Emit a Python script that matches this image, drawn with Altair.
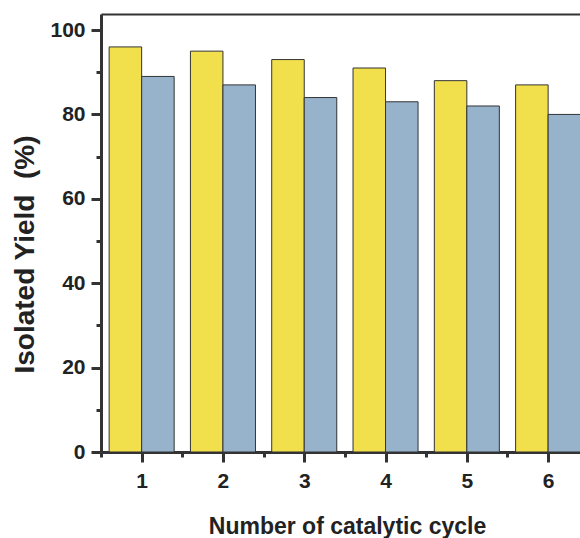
import altair as alt
import pandas as pd

cycles = [1, 2, 3, 4, 5, 6]
yellow_vals = [96, 95, 93, 91, 88, 87]
blue_vals = [89, 87, 84, 83, 82, 80]
series_names = ["A", "B"]
series_colors = ["#F1E04B", "#97B3CB"]
x_ticks = [0.5, 1, 1.5, 2, 2.5, 3, 3.5, 4, 4.5, 5, 5.5, 6]
y_ticks = [0, 10, 20, 30, 40, 50, 60, 70, 80, 90, 100]

rows = []
for c, a, b in zip(cycles, yellow_vals, blue_vals):
    rows.append({"cycle": c, "series": "A", "order": 0, "yield": a})
    rows.append({"cycle": c, "series": "B", "order": 1, "yield": b})
df = pd.DataFrame(rows)

FONT = "Liberation Sans"
TXT = "#222222"
LINE = "#333333"
XDOM = [0.5, 6.392]
YDOM = [0, 103.8]

base = alt.Chart(df).transform_calculate(
    x0="datum.cycle - 0.4 + datum.order * 0.4",
    x1="datum.cycle + datum.order * 0.4",
)

bars = base.mark_bar(stroke=LINE, strokeWidth=1, clip=True).encode(
    x=alt.X(
        "x0:Q",
        scale=alt.Scale(domain=XDOM, nice=False, zero=False),
        axis=alt.Axis(
            title="Number of catalytic cycle",
            values=x_ticks,
            labelExpr="(datum.value % 1 === 0) ? format(datum.value, 'd') : ''",
            labelOverlap=False,
            tickSize={"condition": {"test": "datum.value % 1 === 0", "value": 10}, "value": 5},
            tickWidth=3,
            tickColor=LINE,
            domainWidth=3,
            domainColor=LINE,
            grid=False,
            labelFont=FONT,
            labelFontWeight="bold",
            labelFontSize=21,
            labelColor=TXT,
            labelPadding=8,
            titleFont=FONT,
            titleFontWeight="bold",
            titleFontSize=23,
            titleColor=TXT,
            titleBaseline="alphabetic",
            titleY=81,
            titleX=246,
        ),
    ),
    x2="x1:Q",
    y=alt.Y(
        "yield:Q",
        scale=alt.Scale(domain=YDOM, nice=False),
        axis=alt.Axis(
            title="Isolated Yield\u00a0\u00a0(%)",
            values=y_ticks,
            labelExpr="datum.value % 20 === 0 ? datum.label : ''",
            labelOverlap=False,
            tickSize={"condition": {"test": "datum.value % 20 === 0", "value": 10}, "value": 5},
            tickWidth=3,
            tickColor=LINE,
            domainWidth=3,
            domainColor=LINE,
            grid=False,
            labelFont=FONT,
            labelFontWeight="bold",
            labelFontSize=21,
            labelColor=TXT,
            labelPadding=6,
            titleFont=FONT,
            titleFontWeight="bold",
            titleFontSize=28,
            titleColor=TXT,
            titleBaseline="alphabetic",
            titleAngle=-90,
            titleX=-68,
            titleY=240,
        ),
    ),
    y2=alt.datum(0),
    color=alt.Color(
        "series:N",
        scale=alt.Scale(domain=series_names, range=series_colors),
        legend=None,
    ),
)

top_frame = base.mark_bar(opacity=0, clip=True).encode(
    x=alt.X(
        "x0:Q",
        scale=alt.Scale(domain=XDOM, nice=False, zero=False),
        axis=alt.Axis(
            orient="top",
            title=None,
            labels=False,
            ticks=False,
            grid=False,
            domain=True,
            domainWidth=2,
            domainColor=LINE,
        ),
    ),
    x2="x1:Q",
    y=alt.Y("yield:Q", scale=alt.Scale(domain=YDOM, nice=False), axis=None),
    y2=alt.datum(0),
)

chart = alt.layer(bars, top_frame).resolve_axis(
    x="independent", y="independent"
).properties(
    width=479,
    height=438,
    autosize=alt.AutoSizeParams(type="none"),
    padding={"left": 101, "top": 14, "right": 0, "bottom": 86},
).configure_view(
    stroke=None,
).configure(background="white")

chart.save("out.html", embed_options={"renderer": "svg", "actions": False})
